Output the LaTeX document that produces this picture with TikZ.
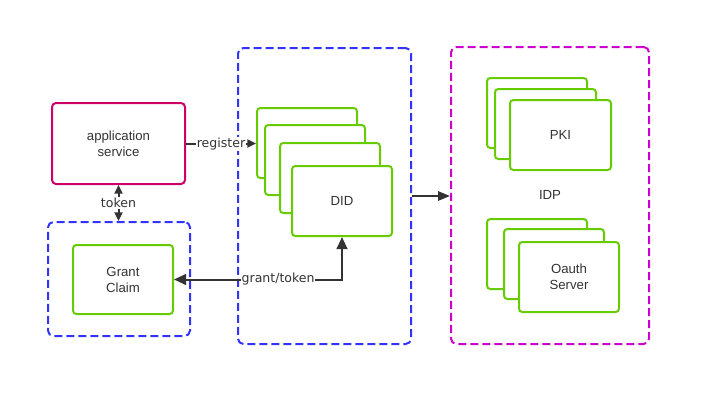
\documentclass[tikz,border=0pt]{standalone}
\usepackage{fontspec}
\setmainfont{Liberation Sans}
\newfontfamily\lblfont{DejaVu Sans}
\usetikzlibrary{fit,arrows.meta}
\definecolor{grn}{HTML}{66CC00}
\definecolor{blu}{HTML}{3333FF}
\definecolor{mag}{HTML}{CC00CC}
\definecolor{crim}{HTML}{CC0066}
\definecolor{ink}{HTML}{333333}
\tikzset{
  box/.style={draw=grn, line width=1.5pt, rounded corners=2.5pt, fill=white, inner sep=0pt},
  appbox/.style={draw=crim, line width=1.5pt, rounded corners=3pt, fill=white, inner sep=0pt},
  contb/.style={draw=blu, line width=1.5pt, dash pattern=on 6pt off 3pt, rounded corners=4pt, inner sep=0pt},
  contm/.style={draw=mag, line width=1.5pt, dash pattern=on 6pt off 3pt, rounded corners=4pt, inner sep=0pt},
  txt/.style={font=\fontsize{9.9}{12}\selectfont, text=ink, align=center},
  lbl/.style={font=\lblfont\fontsize{9.4}{11}\selectfont, text=ink, fill=white, inner sep=0.5pt},
  conn/.style={draw=ink, line width=1.5pt},
  tip/.style={-{Triangle[length=6.5pt,width=6pt]}},
}
\begin{document}
\begin{tikzpicture}[x=0.75pt,y=-0.75pt]
\useasboundingbox (0,0) rectangle (710,407);
% containers
\node[contb, fit={(48,222)(190,336)}] (gbox) {};
\node[contb, fit={(238,48)(411,344)}] (didc) {};
\node[contm, fit={(451,47)(649,344)}] (idp) {};
% application service
\node[appbox, fit={(52,103)(185,184)}] (app) {};
\node[txt] at (app.center) {application\\service};
% grant claim
\node[box, fit={(73,245)(173,314)}] (gc) {};
\node[txt] at (gc.center) {Grant\\Claim};
% DID stack
\node[box, fit={(257,108)(357,178)}] (did1) {};
\node[box, fit={(265,125)(365,195)}] (did2) {};
\node[box, fit={(280,143)(380,213)}] (did3) {};
\node[box, fit={(292,166)(392,236)}] (did4) {};
\node[txt] at (did4.center) {DID};
% PKI stack
\node[box, fit={(487,78)(587,148)}] (pki1) {};
\node[box, fit={(495,89)(596,159)}] (pki2) {};
\node[box, fit={(510,100)(611,170)}] (pki3) {};
\node[txt] at (pki3.center) {PKI};
% Oauth stack
\node[box, fit={(487,219)(587,289)}] (oa1) {};
\node[box, fit={(504,229)(604,299)}] (oa2) {};
\node[box, fit={(519,242)(619,312)}] (oa3) {};
\node[txt] at (oa3.center) {Oauth\\Server};
% IDP label
\node[txt] (idpl) at (550,195) {IDP};
% connectors
\draw[conn, {Triangle[length=6.5pt,width=6pt]}-{Triangle[length=6.5pt,width=6pt]}] (app.south) -- (app.south |- gbox.north)
  node[lbl, midway] {token};
\draw[conn, tip] (app.east) -- (app.east -| did1.west)
  node[lbl, midway, yshift=-0.5pt] {register};
\draw[conn, {Triangle[length=9pt,width=8pt]}-{Triangle[length=9pt,width=8pt]}] (gc.east) -- (gc.east -| did4.south)
  node[lbl, pos=0.62] {grant/token} -- (did4.south);
\draw[conn, -{Triangle[length=9pt,width=7pt]}] (didc.east) -- (didc.east -| idp.west);
\end{tikzpicture}
\end{document}
